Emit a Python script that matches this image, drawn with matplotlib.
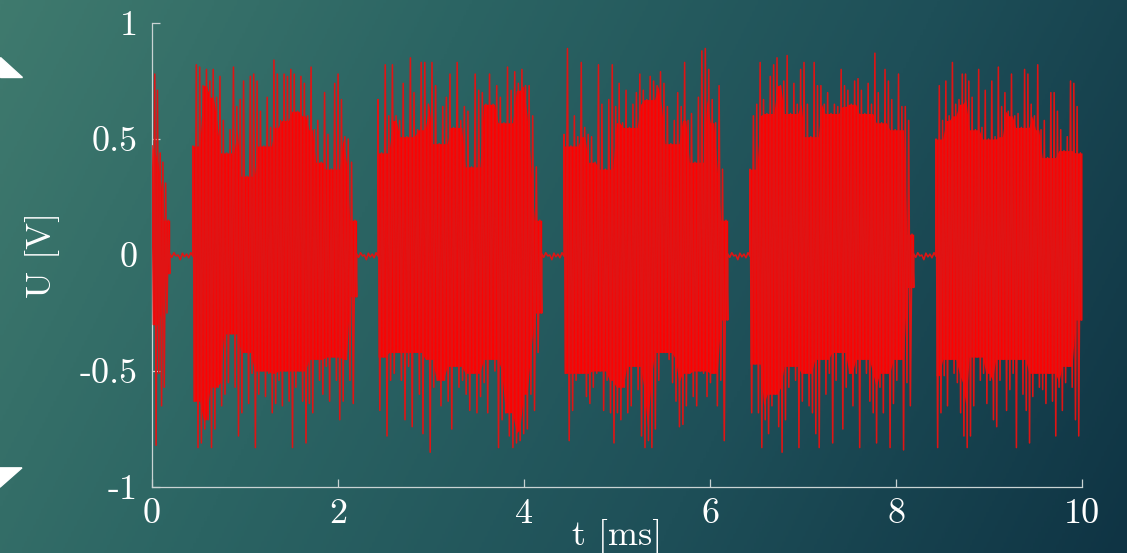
import numpy as np
import matplotlib
matplotlib.use("Agg")
import matplotlib.pyplot as plt
from matplotlib.patches import Polygon
from matplotlib.colors import LinearSegmentedColormap

# burst limits (ms)
burst_start = [0.0, 0.44, 2.43, 4.43, 6.43, 8.43]
burst_end = [0.19, 2.20, 4.19, 6.19, 8.19, 10.0]

# upper / lower peaks of each burst (V)
up0 = [0.47, 0.78, 0.71, 0.44, 0.40, 0.31, 0.15]
lo0 = [-0.30, -0.82, -0.51, -0.65, -0.57, -0.25, -0.08]

up1 = [0.47, 0.82, 0.81, 0.73, 0.80, 0.75, 0.80, 0.68, 0.77, 0.58, 0.44, 0.54, 0.81, 0.64, 0.67, 0.75, 0.34,
       0.77, 0.78, 0.75, 0.62, 0.47, 0.68, 0.55, 0.84, 0.78, 0.58, 0.78, 0.77, 0.80, 0.78, 0.62, 0.77, 0.74,
       0.60, 0.81, 0.54, 0.58, 0.40, 0.70, 0.52, 0.37, 0.74, 0.78, 0.67, 0.51, 0.50, 0.40, 0.15]
lo1 = [-0.63, -0.83, -0.81, -0.75, -0.71, -0.83, -0.75, -0.57, -0.65, -0.60, -0.55, -0.34, -0.57, -0.78, -0.68,
       -0.42, -0.64, -0.51, -0.83, -0.60, -0.50, -0.61, -0.51, -0.68, -0.64, -0.54, -0.65, -0.50, -0.63, -0.83,
       -0.57, -0.50, -0.63, -0.81, -0.64, -0.68, -0.45, -0.54, -0.60, -0.48, -0.63, -0.44, -0.54, -0.71, -0.63,
       -0.45, -0.54, -0.64, -0.18]

up2 = [0.67, 0.44, 0.82, 0.60, 0.82, 0.60, 0.58, 0.74, 0.51, 0.85, 0.70, 0.54, 0.83, 0.83, 0.65, 0.83, 0.73,
       0.48, 0.64, 0.68, 0.78, 0.55, 0.83, 0.58, 0.64, 0.62, 0.38, 0.78, 0.71, 0.70, 0.65, 0.78, 0.65, 0.73,
       0.68, 0.57, 0.81, 0.71, 0.79, 0.74, 0.80, 0.73, 0.73, 0.60, 0.38, 0.15]
lo2 = [-0.67, -0.44, -0.78, -0.54, -0.51, -0.42, -0.54, -0.71, -0.48, -0.74, -0.42, -0.60, -0.77, -0.45, -0.85,
       -0.57, -0.54, -0.65, -0.54, -0.63, -0.75, -0.48, -0.57, -0.54, -0.60, -0.67, -0.51, -0.68, -0.61, -0.55,
       -0.68, -0.45, -0.50, -0.83, -0.71, -0.68, -0.78, -0.83, -0.81, -0.80, -0.77, -0.75, -0.60, -0.67, -0.42,
       -0.25]

up3 = [0.52, 0.89, 0.47, 0.60, 0.51, 0.83, 0.55, 0.52, 0.51, 0.40, 0.82, 0.65, 0.37, 0.67, 0.82, 0.64, 0.74,
       0.57, 0.71, 0.55, 0.65, 0.70, 0.78, 0.71, 0.67, 0.77, 0.75, 0.73, 0.79, 0.74, 0.64, 0.48, 0.58, 0.70,
       0.64, 0.83, 0.58, 0.61, 0.40, 0.68, 0.88, 0.89, 0.80, 0.67, 0.57, 0.73, 0.37, 0.15]
lo3 = [-0.51, -0.80, -0.67, -0.54, -0.51, -0.51, -0.61, -0.64, -0.57, -0.51, -0.50, -0.67, -0.54, -0.68, -0.81,
       -0.68, -0.71, -0.57, -0.68, -0.65, -0.48, -0.58, -0.78, -0.83, -0.80, -0.83, -0.75, -0.54, -0.42, -0.42,
       -0.45, -0.55, -0.63, -0.74, -0.73, -0.65, -0.51, -0.61, -0.65, -0.50, -0.51, -0.61, -0.55, -0.51, -0.65,
       -0.54, -0.80, -0.28]

up4 = [0.37, 0.60, 0.65, 0.83, 0.67, 0.61, 0.77, 0.82, 0.85, 0.73, 0.75, 0.86, 0.61, 0.74, 0.65, 0.80, 0.83,
       0.65, 0.51, 0.83, 0.73, 0.73, 0.65, 0.70, 0.61, 0.65, 0.64, 0.80, 0.73, 0.71, 0.65, 0.75, 0.76, 0.71,
       0.61, 0.74, 0.65, 0.87, 0.70, 0.57, 0.80, 0.75, 0.67, 0.54, 0.78, 0.64, 0.64, 0.58, 0.09]
lo4 = [-0.68, -0.47, -0.68, -0.83, -0.71, -0.77, -0.65, -0.60, -0.74, -0.85, -0.71, -0.57, -0.48, -0.54, -0.83,
       -0.63, -0.51, -0.65, -0.68, -0.77, -0.83, -0.45, -0.60, -0.51, -0.81, -0.54, -0.42, -0.75, -0.57, -0.51,
       -0.65, -0.51, -0.83, -0.45, -0.51, -0.63, -0.68, -0.81, -0.57, -0.68, -0.51, -0.83, -0.64, -0.54, -0.45,
       -0.84, -0.55, -0.65, -0.14]

up5 = [0.50, 0.73, 0.58, 0.75, 0.60, 0.83, 0.65, 0.67, 0.78, 0.78, 0.75, 0.68, 0.54, 0.80, 0.55, 0.71, 0.50,
       0.75, 0.51, 0.81, 0.64, 0.70, 0.62, 0.78, 0.60, 0.61, 0.55, 0.80, 0.78, 0.65, 0.60, 0.82, 0.54, 0.58,
       0.42, 0.70, 0.70, 0.62, 0.54, 0.45, 0.51, 0.75, 0.74, 0.64, 0.44]
lo5 = [-0.83, -0.68, -0.52, -0.65, -0.45, -0.51, -0.55, -0.68, -0.78, -0.83, -0.78, -0.65, -0.44, -0.54, -0.51,
       -0.64, -0.54, -0.71, -0.74, -0.54, -0.45, -0.67, -0.58, -0.51, -0.83, -0.45, -0.60, -0.67, -0.81, -0.61,
       -0.51, -0.57, -0.58, -0.64, -0.51, -0.63, -0.78, -0.57, -0.67, -0.55, -0.48, -0.57, -0.71, -0.78, -0.28]

# small noise between bursts
gap_up = [0.005, 0.01, 0.0, 0.008, 0.004, 0.01]
gap_lo = [-0.01, -0.004, -0.02, -0.008, -0.012, -0.005]

uppers = [up0, up1, up2, up3, up4, up5]
lowers = [lo0, lo1, lo2, lo3, lo4, lo5]

xticks = [0, 2, 4, 6, 8, 10]
yticks = [-1, -0.5, 0, 0.5, 1]
ytick_labels = ["-1", "-0.5", "0", "0.5", "1"]


def zigzag(t0, t1, up, lo):
    up = np.asarray(up)
    lo = np.asarray(lo)
    tt = np.linspace(t0, t1, 2 * len(up))
    yy = np.empty(2 * len(up))
    yy[0::2] = up
    yy[1::2] = lo
    return tt, yy


def core(v, fn, w=2):
    # running min/max over 2*w+1 neighbours -> solid inner part of the burst
    p = np.pad(v, w, mode="edge")
    out = p[w:len(p) - w].copy()
    for k in range(1, w + 1):
        out = fn(out, p[w - k:len(p) - w - k])
        out = fn(out, p[w + k:len(p) - w + k])
    return out


# build the trace
tt_all, yy_all = [], []
for i in range(len(uppers)):
    if i > 0:
        tg, yg = zigzag(burst_end[i - 1], burst_start[i], gap_up, gap_lo)
        tt_all.append(tg)
        yy_all.append(yg)
    tb, yb = zigzag(burst_start[i], burst_end[i], uppers[i], lowers[i])
    tt_all.append(tb)
    yy_all.append(yb)
t = np.concatenate(tt_all)
u = np.concatenate(yy_all)

plt.rcParams['font.family'] = ['cmr10', 'DejaVu Serif']
plt.rcParams['axes.formatter.use_mathtext'] = True

fig = plt.figure(figsize=(11.27, 5.53), dpi=100)

# background gradient
bg = fig.add_axes([0, 0, 1, 1], zorder=-1)
gx, gy = np.meshgrid(np.linspace(0, 1, 400), np.linspace(0, 1, 200))
grad = 0.8 * gx + 0.2 * gy
cmap = LinearSegmentedColormap.from_list("bg", ["#3f7a6e", "#2b6463", "#1e4f58", "#0f3444"])
bg.imshow(grad, cmap=cmap, aspect="auto", extent=[0, 1, 0, 1], origin="upper")
bg.axis("off")

# decorative white wedges at the left edge
fig.patches.append(Polygon([(0, 0.897), (0, 0.861), (0.0195, 0.861)], closed=True,
                           transform=fig.transFigure, color="white", figure=fig))
fig.patches.append(Polygon([(0, 0.154), (0.0195, 0.154), (0, 0.119)], closed=True,
                           transform=fig.transFigure, color="white", figure=fig))

ax = fig.add_axes([0.1349, 0.1193, 0.8252, 0.8391])
ax.patch.set_alpha(0)

# solid core of each burst, then the trace itself
for i in range(len(uppers)):
    tu = np.linspace(burst_start[i], burst_end[i], len(uppers[i]))
    ax.fill_between(tu, core(np.asarray(lowers[i]), np.maximum), core(np.asarray(uppers[i]), np.minimum),
                    color="#ff0000", lw=0, zorder=2)
ax.plot(t, u, color="#e01414", lw=1.15, zorder=3)

ax.set_xlim(0, 10)
ax.set_ylim(-1, 1)
ax.set_xticks(xticks, [str(x) for x in xticks])
ax.set_yticks(yticks, ytick_labels)

axis_col = "#c9d3d3"
for s in ["top", "right"]:
    ax.spines[s].set_visible(False)
for s in ["left", "bottom"]:
    ax.spines[s].set_color(axis_col)
    ax.spines[s].set_linewidth(0.9)
ax.tick_params(axis="both", direction="in", length=6, width=0.9, color=axis_col,
               labelcolor="white", labelsize=26)
ax.tick_params(axis="y", pad=10)
ax.tick_params(axis="x", pad=8)

ax.set_xlabel("t [ms]", color="white", fontsize=26, va="top")
ax.xaxis.set_label_coords(0.5, -0.068)
ax.set_ylabel("U [V]", color="white", fontsize=26, va="center", ha="center")
ax.yaxis.set_label_coords(-0.118, 0.5)

fig.savefig("out.png", dpi=100)
